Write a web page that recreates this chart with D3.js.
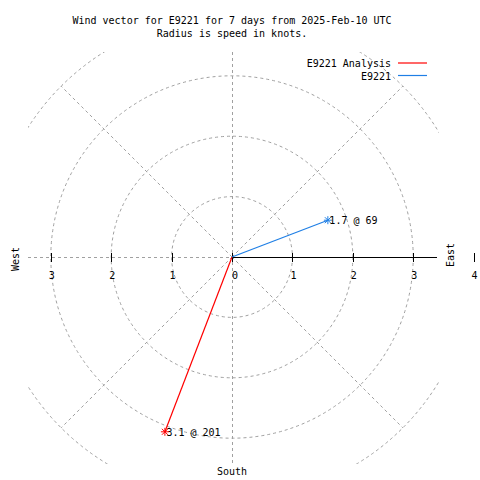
<!DOCTYPE html>
<html>
<head>
<meta charset="utf-8">
<script src="https://cdn.jsdelivr.net/npm/d3@7"></script>
<style>
  html, body { margin: 0; padding: 0; background: #fff; }
  svg { display: block; }
  text { font-family: "DejaVu Sans Mono", monospace; font-size: 10px; fill: #000; }
</style>
</head>
<body>
<script>
// ---- data ----
const titleLines = ["Wind vector for E9221 for 7 days from 2025-Feb-10 UTC", "Radius is speed in knots."];
const seriesNames = ["E9221 Analysis", "E9221"];
const speeds = [3.1, 1.7];          // knots
const directions = [201, 69];       // degrees clockwise from north
const ringValues = [1, 2, 3, 4];
const spokeAngles = [45, 135, 225, 315];
const tickValues = [-3, -2, -1, 0, 1, 2, 3, 4];
const tickLabels = ["3", "2", "1", "0", "1", "2", "3", "4"];
const compassLabels = ["East", "West", "South"];

// ---- layout ----
const W = 480, H = 480;
const cx = 232, cy = 257;
const seriesColors = ["#ff0000", "#1f7fe5"];
const gridColor = "#a0a0a0";

const r = d3.scaleLinear().domain([0, 1]).range([0, 60.4]);
const x = d3.scaleLinear().domain([-1, 1]).range([cx - 60.4, cx + 60.4]);
const box = { x0: 28, x1: 439, y0: 52, y1: 464 };

const svg = d3.select("body").append("svg").attr("width", W).attr("height", H);
svg.append("defs").append("clipPath").attr("id", "plotclip")
  .append("rect").attr("x", box.x0).attr("y", box.y0)
  .attr("width", box.x1 - box.x0).attr("height", box.y1 - box.y0);

// title
svg.selectAll("text.title").data(titleLines).join("text")
  .attr("class", "title").attr("x", 232).attr("y", (d, i) => 24 + i * 12.5)
  .attr("text-anchor", "middle").text(d => d);

const grid = svg.append("g").attr("clip-path", "url(#plotclip)")
  .attr("fill", "none").attr("stroke", gridColor).attr("stroke-width", 1)
  .attr("stroke-dasharray", "3,3");

// rings
grid.selectAll("circle").data(ringValues).join("circle")
  .attr("cx", cx).attr("cy", cy).attr("r", d => r(d));

// spokes
const rmax = r(4);
grid.selectAll("line.spoke").data(spokeAngles).join("line")
  .attr("x1", cx).attr("y1", cy)
  .attr("x2", d => cx + rmax * Math.sin(d * Math.PI / 180))
  .attr("y2", d => cy - rmax * Math.cos(d * Math.PI / 180));

// vertical axis and west axis (dashed)
grid.append("line").attr("x1", cx + 0.5).attr("x2", cx + 0.5).attr("y1", box.y0).attr("y2", box.y1);
grid.append("line").attr("x1", box.x0).attr("x2", cx).attr("y1", cy + 0.5).attr("y2", cy + 0.5);

// east axis solid
svg.append("line").attr("x1", cx).attr("x2", box.x1 - 2).attr("y1", cy + 0.5).attr("y2", cy + 0.5)
  .attr("stroke", "#000").attr("stroke-width", 1);

// ticks
svg.selectAll("line.tick").data(tickValues).join("line")
  .attr("x1", d => Math.round(x(d)) + 0.5).attr("x2", d => Math.round(x(d)) + 0.5)
  .attr("y1", cy - 4).attr("y2", cy + 5)
  .attr("stroke", "#000").attr("stroke-width", 1);

svg.selectAll("text.ticklabel").data(tickValues).join("text")
  .attr("x", d => x(d) + (d === 0 ? 3 : 1)).attr("y", 279)
  .attr("text-anchor", "middle").text((d, i) => tickLabels[i]);

// compass labels
svg.append("text").attr("transform", "translate(454,255) rotate(-90)")
  .attr("text-anchor", "middle").text(compassLabels[0]);
svg.append("text").attr("transform", "translate(19,259) rotate(-90)")
  .attr("text-anchor", "middle").text(compassLabels[1]);
svg.append("text").attr("x", 232).attr("y", 475)
  .attr("text-anchor", "middle").text(compassLabels[2]);

// vectors
const pts = speeds.map((s, i) => ({
  s, dir: directions[i],
  px: cx + r(s) * Math.sin(directions[i] * Math.PI / 180),
  py: cy - r(s) * Math.cos(directions[i] * Math.PI / 180),
  color: seriesColors[i]
}));

svg.selectAll("line.vec").data(pts).join("line")
  .attr("x1", cx).attr("y1", cy).attr("x2", d => d.px).attr("y2", d => d.py)
  .attr("stroke", d => d.color).attr("stroke-width", 1.2);

const star = svg.selectAll("g.star").data(pts).join("g")
  .attr("transform", d => `translate(${d.px},${d.py})`)
  .attr("stroke", d => d.color).attr("stroke-width", 1);
star.append("line").attr("x1", -4).attr("x2", 4).attr("y1", 0).attr("y2", 0);
star.append("line").attr("x1", 0).attr("x2", 0).attr("y1", -4).attr("y2", 4);
star.append("line").attr("x1", -3).attr("x2", 3).attr("y1", -3).attr("y2", 3);
star.append("line").attr("x1", -3).attr("x2", 3).attr("y1", 3).attr("y2", -3);

svg.selectAll("text.vlabel").data(pts).join("text")
  .attr("x", d => d.px + 1.5).attr("y", d => d.py + 4)
  .text(d => `${d.s} @ ${d.dir}`);

// legend
seriesNames.forEach((name, i) => {
  const ly = 63 + i * 12.5;
  svg.append("text").attr("x", 391).attr("y", ly + 4).attr("text-anchor", "end").text(name);
  svg.append("line").attr("x1", 398).attr("x2", 427).attr("y1", ly).attr("y2", ly)
    .attr("stroke", seriesColors[i]).attr("stroke-width", 1.2);
});
</script>
</body>
</html>
